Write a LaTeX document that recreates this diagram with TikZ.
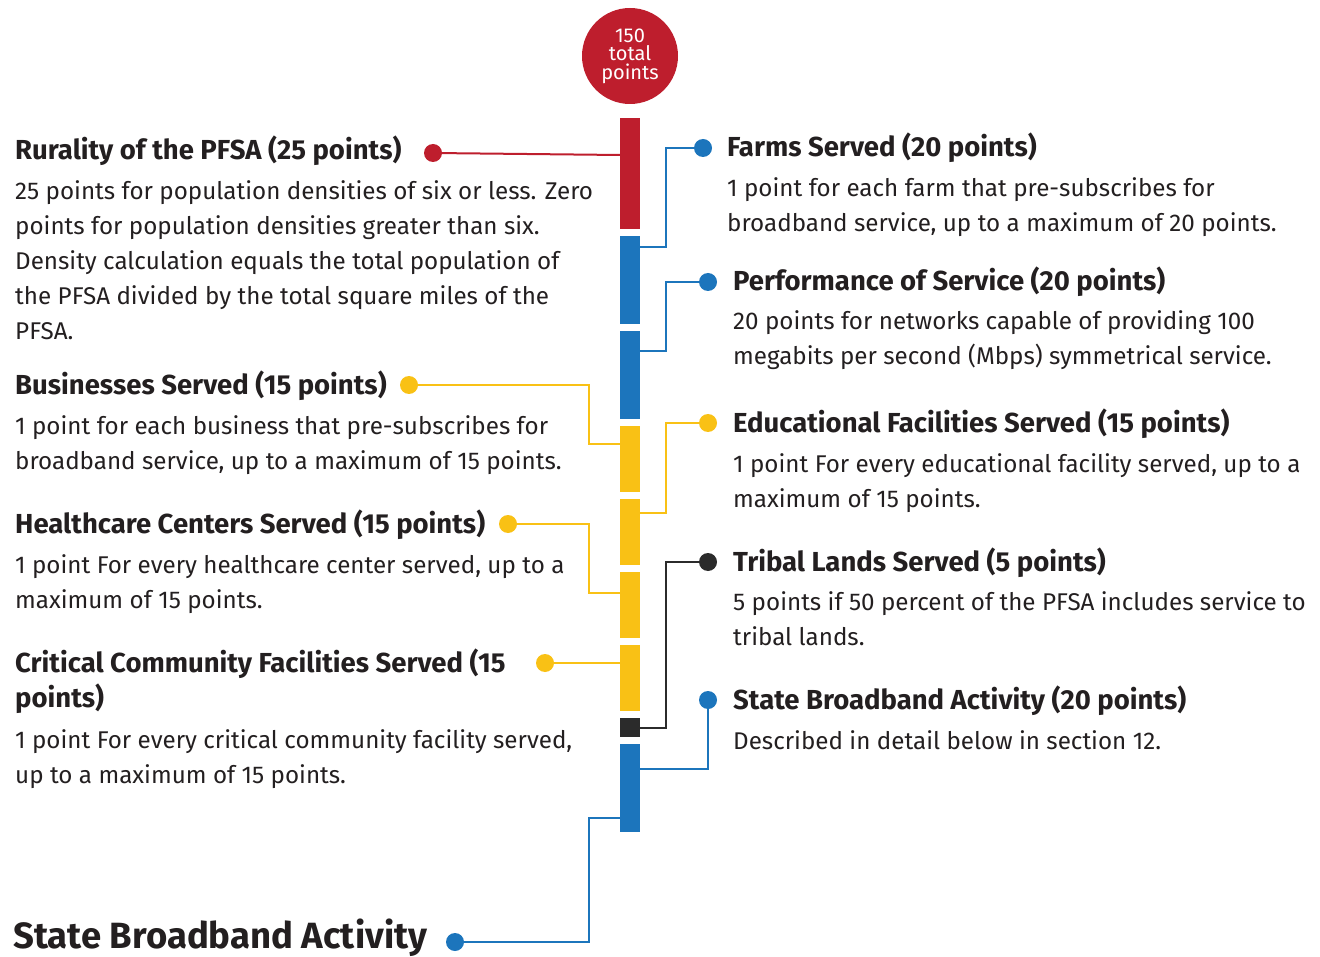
\documentclass[tikz,border=0pt]{standalone}
\usepackage{fontspec}
\setmainfont{Fira Sans}
\usetikzlibrary{positioning}

\definecolor{pfsaRed}{HTML}{BE1E2D}
\definecolor{pfsaBlue}{HTML}{1C75BC}
\definecolor{pfsaYellow}{HTML}{F9C115}
\definecolor{pfsaDark}{HTML}{2B2B2B}
\definecolor{pfsaText}{HTML}{231F20}

\begin{document}
\begin{tikzpicture}[x=1pt, y=-1pt,
        segment/.style={
            % The shape
            rectangle,
            minimum width = 20pt,
            inner sep = 0pt,
            outer sep = 0pt,
            % The border
            draw = none
        },
        heading/.style={
            % The position (base = last line)
            anchor = base west,
            inner sep = 0pt,
            % The color
            color = pfsaText,
            % Font
            font = \fontsize{27.5}{35}\selectfont\bfseries
        },
        detail/.style={
            % The position (base = last line)
            anchor = base west,
            inner sep = 0pt,
            align = left,
            % The color
            color = pfsaText,
            % Font
            font = \fontsize{24.2}{35}\selectfont
        },
        dot/.style={
            % The shape
            circle,
            minimum size = 18pt,
            inner sep = 0pt,
            % The color
            fill = #1
        },
        link/.style={
            % The border
            line width = 2pt,
            draw = #1
        },
    ]
        \useasboundingbox (0,0) rectangle (1320,957);

        % the total
        \node (total) [circle,fill=pfsaRed,minimum size=96pt,inner sep=0pt,text=white,align=center,
            font=\fontsize{20}{18.5}\selectfont] at (630,56) {150\\total\\points};

        % the bar
        \node (rural) [segment,fill=pfsaRed,minimum height=111pt,anchor=north] at (630,118) {};
        \node (farms) [segment,fill=pfsaBlue,minimum height=88pt,below=7pt of rural] {};
        \node (perform) [segment,fill=pfsaBlue,minimum height=88pt,below=7pt of farms] {};
        \node (business) [segment,fill=pfsaYellow,minimum height=66pt,below=7pt of perform] {};
        \node (educate) [segment,fill=pfsaYellow,minimum height=66pt,below=7pt of business] {};
        \node (health) [segment,fill=pfsaYellow,minimum height=66pt,below=7pt of educate] {};
        \node (critical) [segment,fill=pfsaYellow,minimum height=66pt,below=7pt of health] {};
        \node (tribal) [segment,fill=pfsaDark,minimum height=19pt,below=7pt of critical] {};
        \node (state) [segment,fill=pfsaBlue,minimum height=88pt,below=7pt of tribal] {};

        % left column
        \node (ruralTitle) [heading] at (15,160) {Rurality of the PFSA (25 points)};
        \node (ruralText) [detail] at (15,340) {25 points for population densities of six or less. Zero\\
        points for population densities greater than six.\\
        Density calculation equals the total population of\\
        the PFSA divided by the total square miles of the\\
        PFSA.};
        \node (ruralDot) [dot=pfsaRed] at (433,153) {};
        \coordinate (ruralEnd) at (620,155);
        \path (ruralDot) edge[link=pfsaRed] (ruralEnd);

        \node (businessTitle) [heading] at (15,395) {Businesses Served (15 points)};
        \node (businessText) [detail] at (15,469) {1 point for each business that pre-subscribes for\\
        broadband service, up to a maximum of 15 points.};
        \node (businessDot) [dot=pfsaYellow] at (409,385) {};
        \coordinate (businessBend) at (589,444);
        \draw[link=pfsaYellow] (businessDot) -| (businessBend) -- (businessBend -| business.west);

        \node (healthTitle) [heading] at (15,533) {Healthcare Centers Served (15 points)};
        \node (healthText) [detail] at (15,608) {1 point For every healthcare center served, up to a\\
        maximum of 15 points.};
        \node (healthDot) [dot=pfsaYellow] at (508,524) {};
        \coordinate (healthBend) at (589,593);
        \draw[link=pfsaYellow] (healthDot) -| (healthBend) -- (healthBend -| health.west);

        \node (criticalTitle) [heading,align=left] at (15,707) {Critical Community Facilities Served (15\\points)};
        \node (criticalText) [detail] at (15,783) {1 point For every critical community facility served,\\
        up to a maximum of 15 points.};
        \node (criticalDot) [dot=pfsaYellow] at (545,663) {};
        \draw[link=pfsaYellow] (criticalDot) -- (criticalDot -| critical.west);

        % right column
        \node (farmsTitle) [heading] at (727,157) {Farms Served (20 points)};
        \node (farmsText) [detail] at (727,232) {1 point for each farm that pre-subscribes for\\
        broadband service, up to a maximum of 20 points.};
        \node (farmsDot) [dot=pfsaBlue] at (703,148) {};
        \coordinate (farmsBend) at (666,247);
        \draw[link=pfsaBlue] (farmsDot) -| (farmsBend) -- (farmsBend -| farms.east);

        \node (performTitle) [heading] at (733,291) {Performance of Service (20 points)};
        \node (performText) [detail] at (733,365) {20 points for networks capable of providing 100\\
        megabits per second (Mbps) symmetrical service.};
        \node (performDot) [dot=pfsaBlue] at (708,282) {};
        \coordinate (performBend) at (666,351);
        \draw[link=pfsaBlue] (performDot) -| (performBend) -- (performBend -| perform.east);

        \node (educateTitle) [heading] at (733,432) {Educational Facilities Served (15 points)};
        \node (educateText) [detail] at (733,507) {1 point For every educational facility served, up to a\\
        maximum of 15 points.};
        \node (educateDot) [dot=pfsaYellow] at (708,423) {};
        \coordinate (educateBend) at (666,513);
        \draw[link=pfsaYellow] (educateDot) -| (educateBend) -- (educateBend -| educate.east);

        \node (tribalTitle) [heading] at (733,571) {Tribal Lands Served (5 points)};
        \node (tribalText) [detail] at (733,645) {5 points if 50 percent of the PFSA includes service to\\
        tribal lands.};
        \node (tribalDot) [dot=pfsaDark] at (708,562) {};
        \coordinate (tribalBend) at (666,728);
        \draw[link=pfsaDark] (tribalDot) -| (tribalBend) -- (tribalBend -| tribal.east);

        \node (stateTitle) [heading] at (733,709) {State Broadband Activity (20 points)};
        \node (stateText) [detail] at (733,749) {Described in detail below in section 12.};
        \node (stateDot) [dot=pfsaBlue] at (708,700) {};
        \coordinate (stateBend) at (708,769);
        \draw[link=pfsaBlue] (stateDot) -- (stateBend) -- (stateBend -| state.east);

        % bottom
        \node (bottomTitle) [heading,font=\fontsize{36.5}{40}\selectfont\bfseries] at (13,948) {State Broadband Activity};
        \node (bottomDot) [dot=pfsaBlue] at (455,942) {};
        \coordinate (bottomBend) at (589,818);
        \draw[link=pfsaBlue] (bottomDot) -| (bottomBend) -- (bottomBend -| state.west);
    \end{tikzpicture}
\end{document}
